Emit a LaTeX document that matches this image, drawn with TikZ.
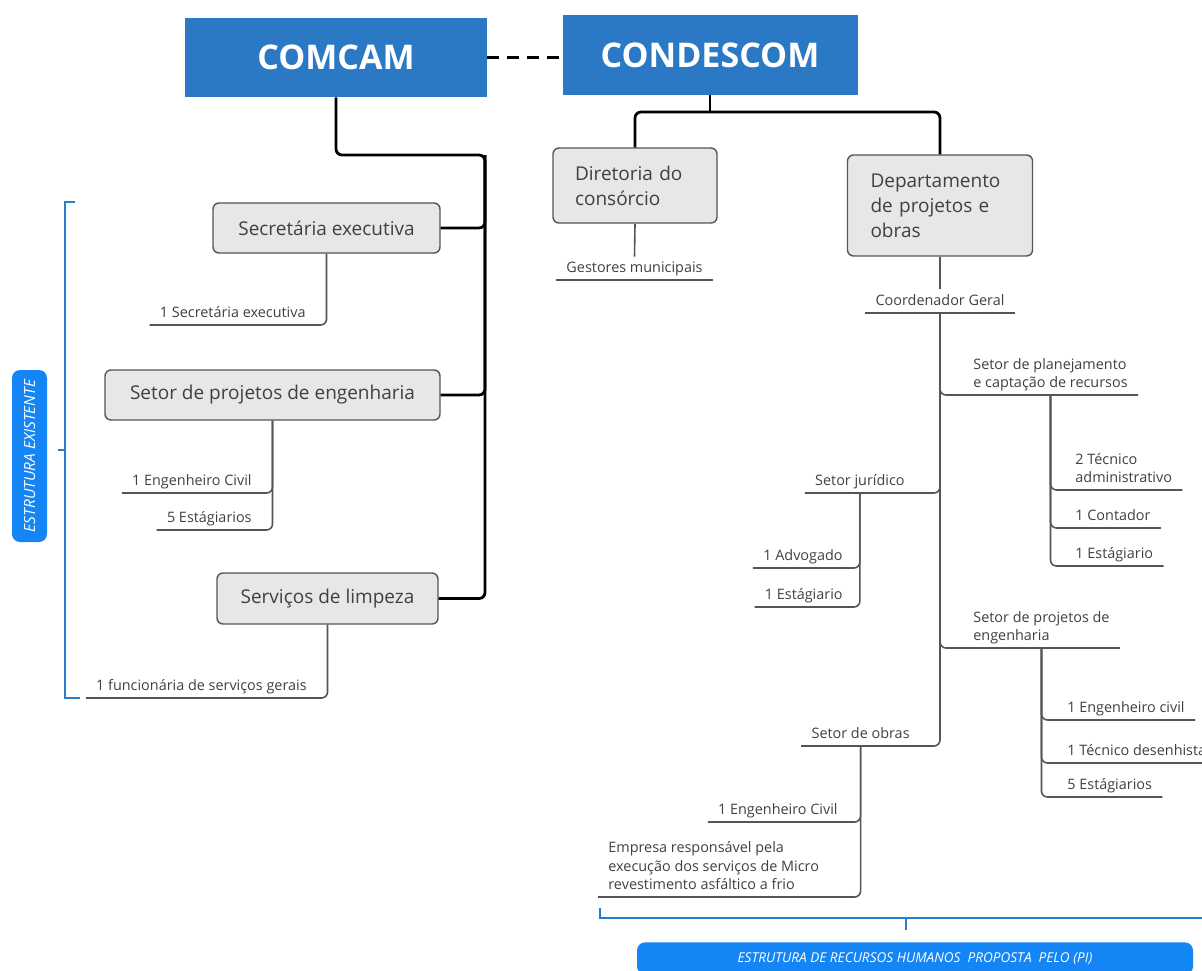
\documentclass[tikz,border=0pt]{standalone}
\usepackage{fontspec}
\setmainfont{Open Sans}
\definecolor{headblue}{RGB}{43,121,196}
\definecolor{tagblue}{RGB}{20,133,244}
\definecolor{brblue}{RGB}{38,126,200}
\definecolor{boxgray}{RGB}{231,231,231}
\definecolor{txtgray}{RGB}{64,64,64}
\definecolor{lngray}{RGB}{85,85,85}
\begin{document}
\begin{tikzpicture}[x=0.5pt,y=-0.5pt,
  headbox/.style={fill=headblue,text=white,font=\fontsize{17}{20}\selectfont\bfseries,inner sep=0pt},
  unitbox/.style={draw=lngray,fill=boxgray,rounded corners=3pt,line width=0.7pt,text=txtgray,font=\fontsize{9.5}{12.5}\selectfont,inner sep=0pt},
  leaf/.style={text=txtgray,font=\fontsize{7.2}{9.3}\selectfont,inner xsep=5pt,inner ysep=2.5pt,text depth=1pt},
  busline/.style={line width=1.4pt,rounded corners=3pt},
  subline/.style={draw=lngray,line width=0.8pt,rounded corners=3pt},
  tagbox/.style={fill=tagblue,rounded corners=4pt,text=white,font=\fontsize{6.8}{8}\selectfont\itshape,inner sep=0pt},
  bracketline/.style={draw=brblue,line width=1pt}]
\useasboundingbox (0,0) rectangle (1202,970);

\node[headbox,minimum width=151pt,minimum height=39.5pt] (comcam) at (336,57.5) {COMCAM};
\node[headbox,minimum width=147.5pt,minimum height=40pt] (condescom) at (710,55) {CONDESCOM};
\draw[line width=1.5pt,dash pattern=on 6pt off 4pt] (comcam.east) -- (comcam.east -| condescom.west);

\node[unitbox,minimum width=113.5pt,minimum height=25pt] (secret) at (326.5,228) {Secretária executiva};
\node[unitbox,minimum width=167.5pt,minimum height=25pt] (projeng) at (272.5,395) {Setor de projetos de engenharia};
\node[unitbox,minimum width=110.5pt,minimum height=25.5pt] (limpeza) at (327.5,598.5) {Serviços de limpeza};
\coordinate (cbus) at (485,155);
\draw[busline] (comcam.south) |- (cbus) |- (limpeza.east);
\draw[busline] (cbus) |- (secret.east);
\draw[busline] (cbus) |- (projeng.east);

\node[leaf,anchor=south east] (secret1) at (316,325) {1 Secretária executiva};
\draw[subline] (secret.south) |- (secret1.south west);
\node[leaf,anchor=south east] (projeng1) at (262,493) {1 Engenheiro Civil};
\node[leaf,anchor=south east] (projeng2) at (262,530) {5 Estágiarios};
\draw[subline] (projeng.south) |- (projeng1.south west);
\draw[subline] (projeng.south) |- (projeng2.south west);
\node[leaf,anchor=south east] (limpeza1) at (317,698) {1 funcionária de serviços gerais};
\draw[subline] (limpeza.south) |- (limpeza1.south west);

\draw[bracketline] (75,202) -- (65,202) -- (65,698) -- (80,698);
\draw[bracketline] (58,450) -- (65,450);
\node[tagbox,rotate=90,minimum width=86pt,minimum height=17.5pt,font=\fontsize{7.7}{9}\selectfont\itshape] (existente) at (29.5,456) {ESTRUTURA EXISTENTE};

\node[unitbox,align=left,text width=60pt,inner xsep=11pt,minimum height=37.5pt] (diretoria) at (635,185.5) {Diretoria do\\consórcio};
\node[unitbox,align=left,text width=69.5pt,inner xsep=11.5pt,minimum height=50.5pt] (dept) at (940,205.5) {Departamento\\de projetos e\\obras};
\coordinate (rbus) at (710,112);
\draw[busline] (condescom.south) -- (rbus);
\draw[busline] (diretoria.north) |- (rbus) -| (dept.north);

\node[leaf,anchor=south] (gestores) at (634.5,280) {Gestores municipais};
\draw[subline] (diretoria.south) -- (gestores.north);
\draw[subline] (gestores.south west) -- (gestores.south east);
\node[leaf,anchor=south] (coord) at (940,313) {Coordenador Geral};
\draw[subline] (dept.south) -- (coord.north);
\draw[subline] (coord.south west) -- (coord.south east);

\node[leaf,anchor=south west,align=left] (planej) at (963,395) {Setor de planejamento\\e captação de recursos};
\node[leaf,anchor=south east] (juridico) at (915,493) {Setor jurídico};
\node[leaf,anchor=south west,align=left] (engenharia) at (963,648) {Setor de projetos de\\engenharia};
\node[leaf,anchor=south east] (obras) at (920,746) {Setor de obras};
\draw[subline] (coord.south) |- (planej.south east);
\draw[subline] (coord.south) |- (juridico.south west);
\draw[subline] (coord.south) |- (engenharia.south east);
\draw[subline] (coord.south) |- (obras.south west);

\node[leaf,anchor=south west,align=left] (tecadm) at (1065,490) {2 Técnico\\administrativo};
\node[leaf,anchor=south west] (contador) at (1065,528) {1 Contador};
\node[leaf,anchor=south west] (estplanej) at (1065,566) {1 Estágiario};
\draw[subline] (planej.south) |- (tecadm.south east);
\draw[subline] (planej.south) |- (contador.south east);
\draw[subline] (planej.south) |- (estplanej.south east);

\node[leaf,anchor=south east] (advogado) at (853,568) {1 Advogado};
\node[leaf,anchor=south east] (estjur) at (853,607) {1 Estágiario};
\draw[subline] (juridico.south) |- (advogado.south west);
\draw[subline] (juridico.south) |- (estjur.south west);

\node[leaf,anchor=south west] (engcivil) at (1057,720) {1 Engenheiro civil};
\node[leaf,anchor=south west] (desenhista) at (1057,763) {1 Técnico desenhista};
\node[leaf,anchor=south west] (esteng) at (1057,797) {5 Estágiarios};
\draw[subline] (engenharia.south) |- (engcivil.south east);
\draw[subline] (engenharia.south) |- (desenhista.south east);
\draw[subline] (engenharia.south) |- (esteng.south east);

\node[leaf,anchor=south east] (engobras) at (848,822) {1 Engenheiro Civil};
\node[leaf,anchor=south west,align=left] (empresa) at (598,897) {Empresa responsável pela\\execução dos serviços de Micro\\revestimento asfáltico a frio};
\draw[subline] (obras.south) |- (engobras.south west);
\draw[subline] (obras.south) |- (empresa.south west);

\draw[bracketline] (600,908) -- (600,918) -- (1210,918);
\draw[bracketline] (906,918) -- (906,930);
\node[tagbox,anchor=north,minimum width=278pt,minimum height=16pt] (proposta) at (915,942) {ESTRUTURA DE RECURSOS HUMANOS\ \ PROPOSTA\ \ PELO (PI)};
\end{tikzpicture}
\end{document}
